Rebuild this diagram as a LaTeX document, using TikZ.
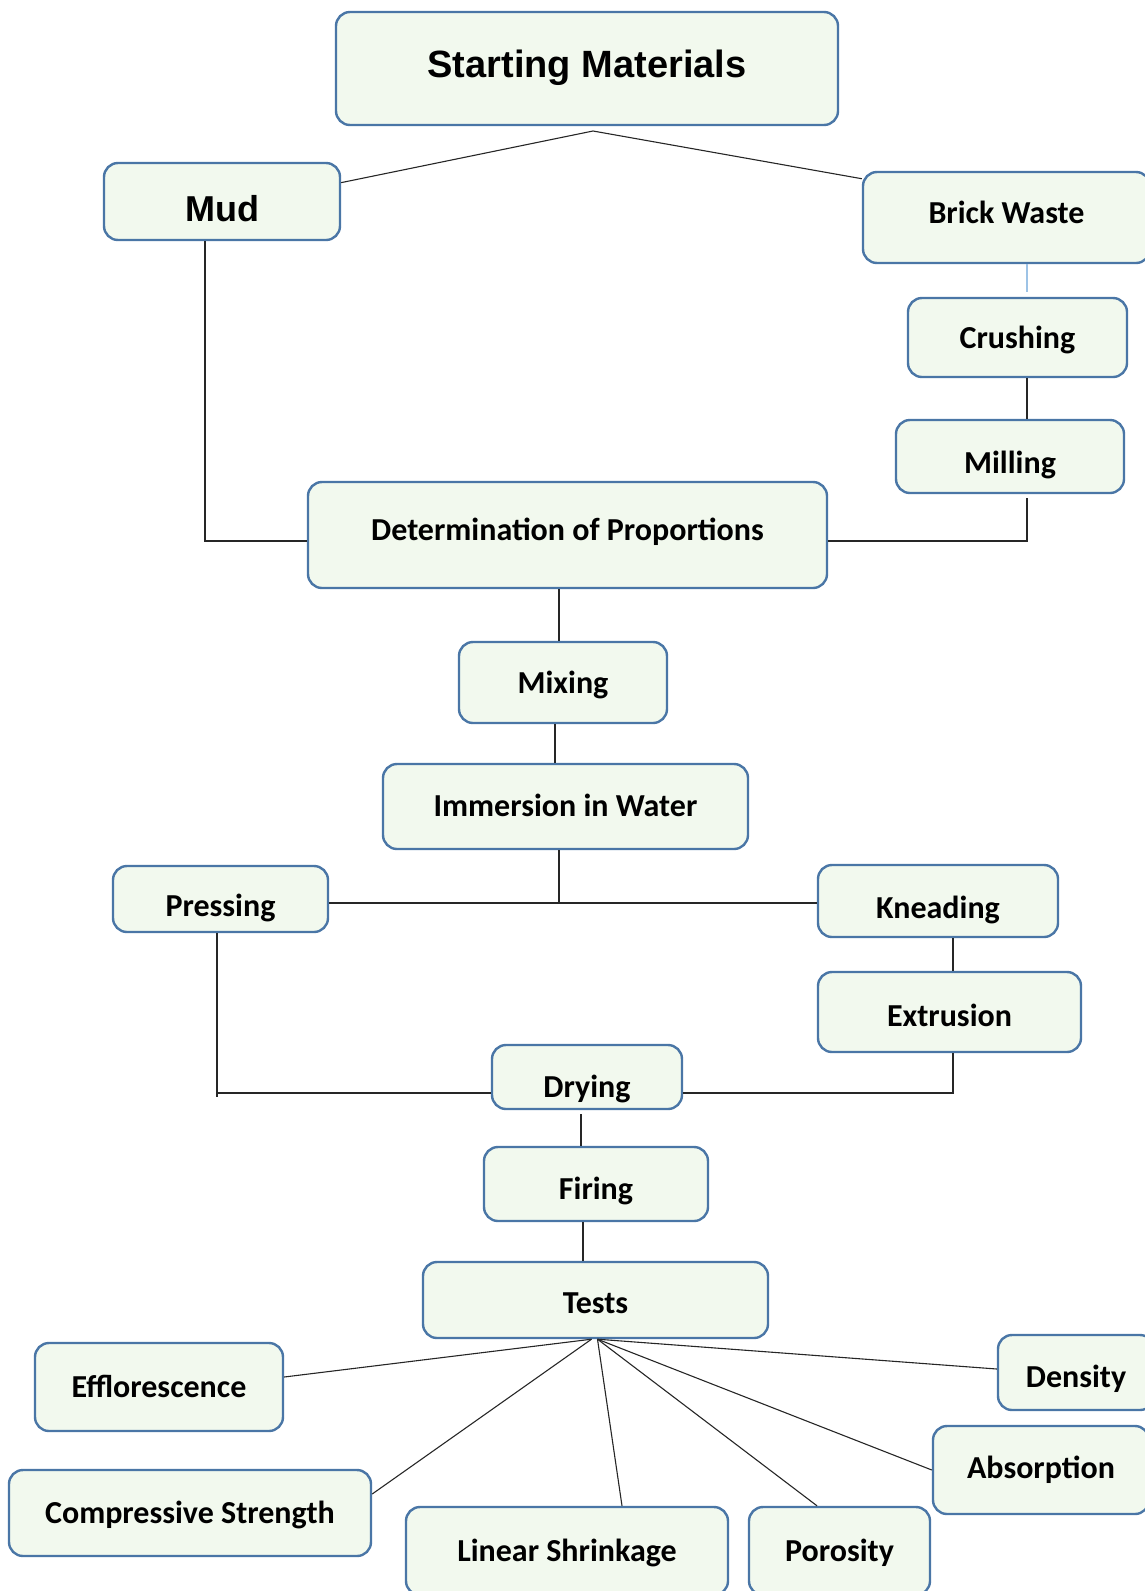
\documentclass[tikz,border=0pt]{standalone}
\usepackage{fontspec}
\setmainfont{Carlito}
\newfontfamily\arialfont{Liberation Sans}
\usetikzlibrary{calc}
\definecolor{frameblue}{HTML}{4A76A6}
\definecolor{boxfill}{HTML}{F2F9EE}
\definecolor{feedblue}{HTML}{9DC3E6}

\begin{document}
\begin{tikzpicture}[x=1pt, y=-1pt,
        stage/.style={draw=frameblue, fill=boxfill, line width=2.4pt, rounded corners=14pt, inner sep=0pt, font=\bfseries\fontsize{32}{38}\selectfont, text height=20.2pt, text depth=0pt},
        head/.style={stage, font=\arialfont\bfseries\fontsize{38}{45}\selectfont},
        link/.style={draw=black!85, line width=1.1pt},
        feed/.style={draw=feedblue, line width=1.4pt}
    ]
        \useasboundingbox (0,0) rectangle (1144,1591);

        % Starting materials
        \node[head, minimum width=502pt, minimum height=113pt, text height=17.2pt] (start) at (587,68.5) {Starting Materials};
        \node[head, font=\arialfont\bfseries\fontsize{36}{43}\selectfont, minimum width=236pt, minimum height=77pt, text height=40.8pt] (mud) at (222,201.5) {Mud};
        \node[stage, minimum width=287pt, minimum height=91pt, text height=11.2pt] (brick) at (1006.5,217.5) {Brick Waste};

        % Brick waste treatment
        \node[stage, minimum width=219pt, minimum height=79pt, text height=22pt] (crush) at (1017.5,337.5) {Crushing};
        \node[stage, minimum width=228pt, minimum height=73pt, text height=34pt] (mill) at (1010,456.5) {Milling};

        % Preparation
        \node[stage, minimum width=519pt, minimum height=106pt, text height=11.2pt] (prop) at (567.5,535) {Determination of Proportions};
        \node[stage, minimum width=208pt, minimum height=81pt, text height=21pt] (mix) at (563,682.5) {Mixing};
        \node[stage, minimum width=365pt, minimum height=85pt] (water) at (565.5,806.5) {Immersion in Water};

        % Shaping
        \node[stage, minimum width=215pt, minimum height=66pt, text height=34pt] (press) at (220.5,899) {Pressing};
        \node[stage, minimum width=240pt, minimum height=72pt, text height=34pt] (knead) at (938,901) {Kneading};
        \node[stage, minimum width=263pt, minimum height=80pt, text height=28pt] (extr) at (949.5,1012) {Extrusion};

        % Drying and firing
        \node[stage, minimum width=190pt, minimum height=64pt, text height=40pt] (dry) at (587,1077) {Drying};
        \node[stage, minimum width=224pt, minimum height=74pt, text height=30pt] (fire) at (596,1184) {Firing};
        \node[stage, minimum width=345pt, minimum height=76pt, text height=27pt] (tests) at (595.5,1300) {Tests};

        % Tests
        \node[stage, minimum width=248pt, minimum height=88pt] (efflo) at (159,1387) {Efflorescence};
        \node[stage, minimum width=362pt, minimum height=86pt] (comp) at (190,1513) {Compressive Strength};
        \node[stage, minimum width=322pt, minimum height=88pt] (shrink) at (567,1551) {Linear Shrinkage};
        \node[stage, minimum width=181pt, minimum height=88pt] (poros) at (839.5,1551) {Porosity};
        \node[stage, minimum width=216pt, minimum height=88pt, text height=16pt] (absorb) at (1041,1470) {Absorption};
        \node[stage, minimum width=156pt, minimum height=75pt, text height=29pt] (dens) at (1076,1372.5) {Density};

        % Connections
        \coordinate (top) at (593,131);
        \draw[link] (mud.9) -- (top) -- (brick.165);

        \draw[feed, shorten >=5pt] ([xshift=20.5pt]brick.south) -- ([xshift=9.5pt]crush.north);
        \draw[link] ([xshift=9.5pt]crush.south) -- ([xshift=17pt]mill.north);

        \draw[link] ([xshift=-17pt]mud.south) |- ([yshift=-6pt]prop.west);
        \draw[link] ([xshift=17pt, yshift=-4pt]mill.south) |- ([yshift=-6pt]prop.east);

        \draw[link] ([xshift=-4pt]mix.north |- prop.south) -- ([xshift=-4pt]mix.north);
        \draw[link] ([xshift=-8pt]mix.south) -- ([xshift=-8pt]mix.south |- water.north);

        \coordinate (split) at (559,903);
        \draw[link] (water.south -| split) -- (split);
        \draw[link] (press.east |- split) -- (knead.west |- split);
        \draw[link] ([xshift=15pt]knead.south) -- ([xshift=15pt]knead.south |- extr.north);

        \coordinate (merge) at (587,1093);
        \draw[link] ([xshift=-3.5pt]press.south) -- ([xshift=-3.5pt, yshift=-4pt]press.south |- merge);
        \draw[link] ([xshift=-3.5pt]press.south |- merge) -- (dry.west |- merge);
        \draw[link] ([xshift=3.5pt]extr.south) |- (dry.east |- merge);

        \draw[link] ([xshift=-6pt, yshift=-4pt]dry.south) -- ([xshift=-6pt]dry.south |- fire.north);
        \draw[link] ([xshift=-13pt]fire.south) -- ([xshift=-13pt]fire.south |- tests.north);

        % Test branches
        \draw[link] ([xshift=-4pt]tests.south) -- ([yshift=10pt]efflo.east);
        \draw[link] ([xshift=-4pt]tests.south) -- ([yshift=19pt]comp.east);
        \draw[link] ([xshift=2pt]tests.south) -- ([xshift=55pt]shrink.north);
        \draw[link] ([xshift=2pt]tests.south) -- ([xshift=-22.5pt]poros.north);
        \draw[link] ([xshift=2pt]tests.south) -- (absorb.west);
        \draw[link] ([xshift=2pt]tests.south) -- ([yshift=3.5pt]dens.west);
    \end{tikzpicture}
\end{document}
